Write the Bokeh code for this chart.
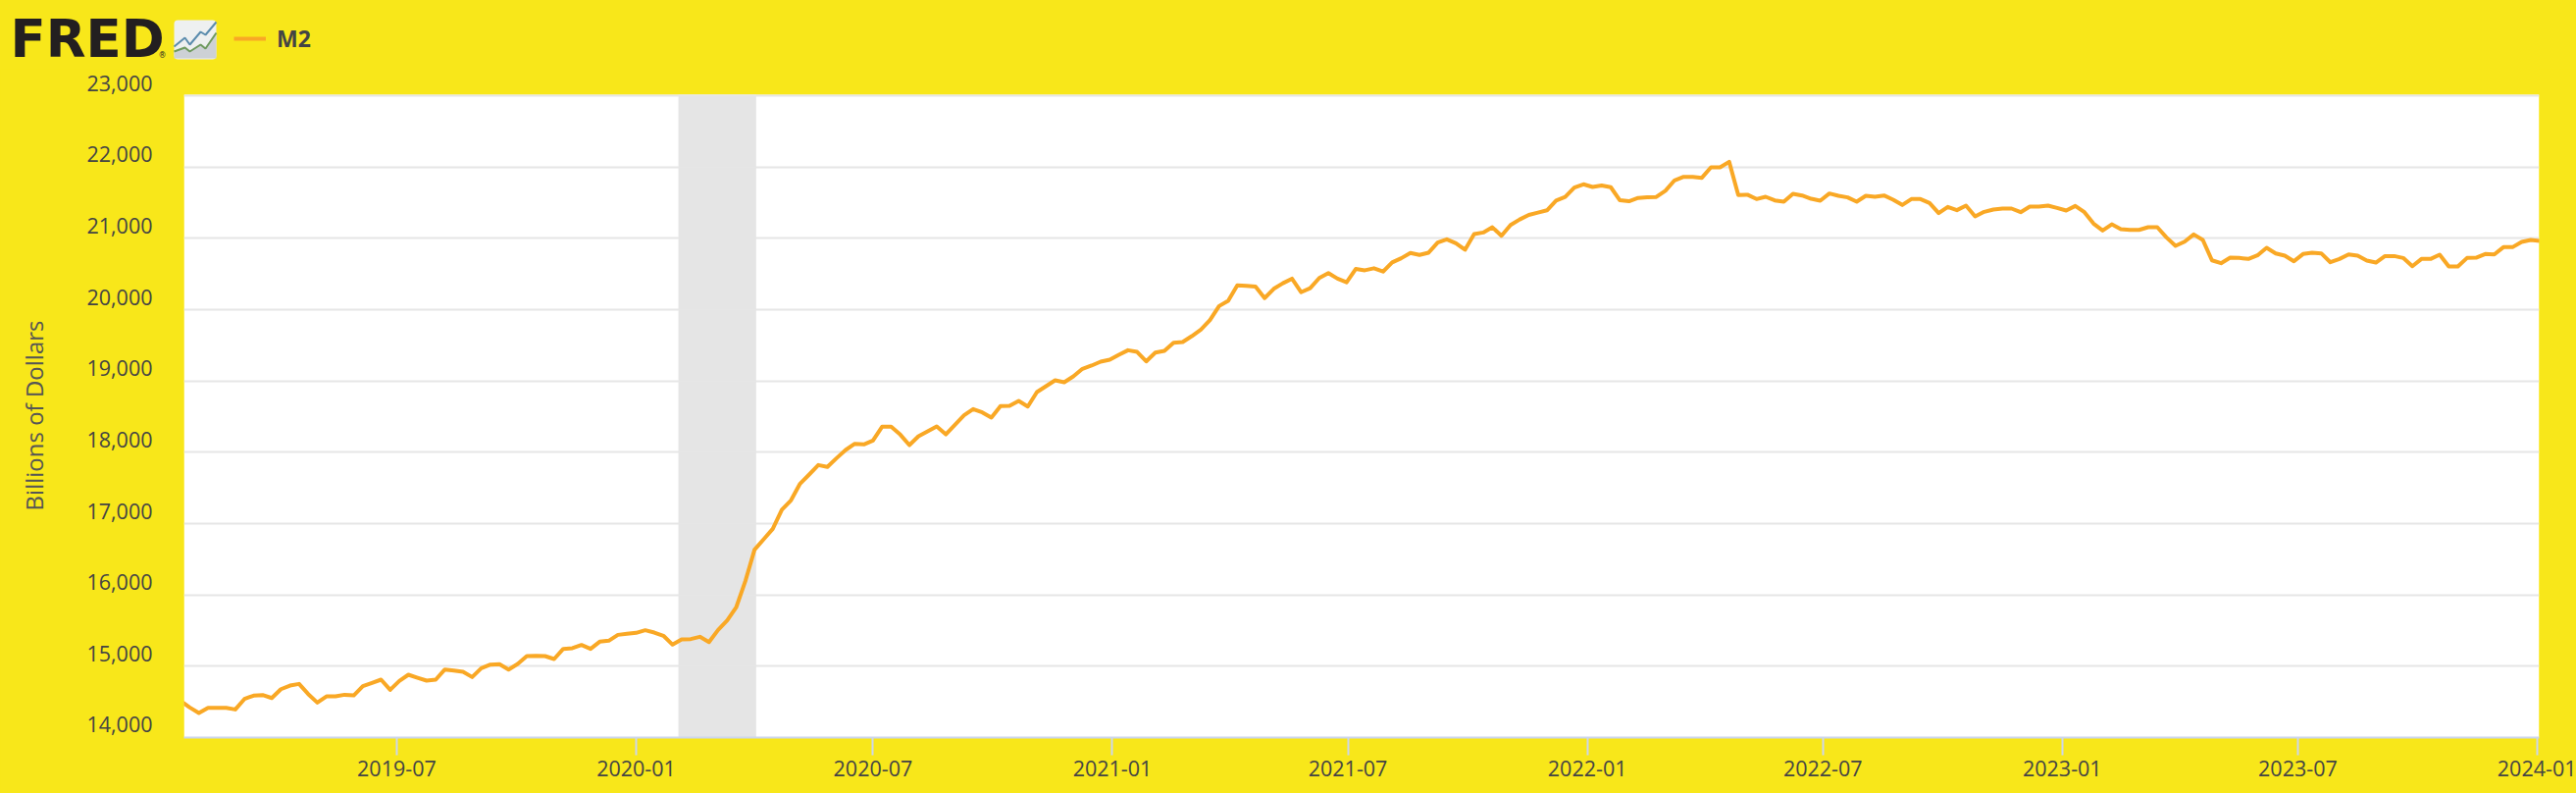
import pandas as pd
from bokeh.core.properties import value
from bokeh.layouts import column
from bokeh.plotting import figure
from bokeh.embed import file_html
from bokeh.resources import INLINE
from bokeh.models import (BoxAnnotation, DatetimeAxis, FixedTicker, Grid, Legend, LegendItem,
                          LinearAxis, NumeralTickFormatter, Range1d)

# ---- data ----
series_name = "M2"
first_week = "2019-01-16"
m2 = [
 14515,14421,14343,14417,14417,14417,14394,14541,14587,14596,14554,14678,14729,14752,14610,14490,
 14577,14577,14600,14591,14720,14766,14812,14669,14793,14881,14839,14798,14812,14954,14940,14922,
 14848,14972,15023,15028,14954,15032,15142,15147,15142,15101,15243,15253,
 15298,15243,15344,15358,15440,15454,15468,15505,15472,15427,15303,15376,15381,15413,15339,15509,
 15642,15830,16197,16633,16780,16927,17193,17326,17560,17688,17821,17794,17917,18032,18119,18110,18165,
 18358,18358,18248,18101,18225,18294,18362,18252,18385,18518,18605,18560,18486,18647,18651,18720,
 18642,18844,18927,19009,18982,19064,19170,19216,19271,19298,19367,19431,19408,19275,19399,19422,
 19537,19546,19628,19720,19853,20050,20125,
 20342,20333,20324,20162,20292,20370,20435,20245,20301,20444,20513,20435,20384,20571,
 20552,20580,20534,20662,20721,20794,20767,20799,20941,20986,20931,20840,21059,21082,21155,21036,
 21187,21265,21329,21361,21393,21530,21580,21712,21758,21721,21740,21717,21534,21520,21566,21575,
 21580,21667,21813,21863,21863,21849,21995,21995,22073,21607,21612,
 21551,21583,21532,21514,21624,21601,21555,21528,21629,21597,21574,21514,21597,21583,21601,21542,
 21468,21551,21551,21496,21353,21441,21395,21459,21308,21372,21404,21418,21418,21367,21445,21445,
 21459,21427,21390,21454,21367,21207,21110,21197,21129,21119,21119,
 21156,21156,21014,20894,20954,21055,20977,20692,20651,20729,20725,20711,20761,20867,20789,20757,
 20679,20780,20798,20789,20665,20711,20775,20757,20688,20660,20752,20752,20725,20610,20711,20711,
 20771,20605,20605,20725,20729,20780,20775,20876,20876,20950,20977,20963,
]
y_ticks = [14000, 15000, 16000, 17000, 18000, 19000, 20000, 21000, 22000, 23000]
x_tick_labels = ["2019-07", "2020-01", "2020-07", "2021-01", "2021-07", "2022-01",
                 "2022-07", "2023-01", "2023-07", "2024-01"]
recession = ("2020-02-02 12:00", "2020-04-02 06:00")
x_limits = ("2019-01-18 12:00", "2024-01-02 12:00")
y_axis_title = "Billions of Dollars"

# ---- styles ----
YELLOW = "#F8E71A"
LINE = "#F9A825"
GRID = "#E6E6E6"
AXIS = "#CCD6EB"
TEXT = "#444444"
FONT = "Open Sans"
TICK_SIZE = "21.5px"
LABEL_SHIFT = 179     # tick labels sit 13 px above their grid lines
PLOT_TOP = y_ticks[-1] + 14
Y_END = y_ticks[-1] + 372
WIDTH, HEADER_H, PAGE_H = 2626, 70, 808

dates = pd.date_range(first_week, periods=len(m2), freq="7D")
to_ms = lambda s: pd.Timestamp(s).value / 1e6

# ---- main chart ----
p = figure(width=WIDTH, height=PAGE_H - HEADER_H, output_backend="svg", toolbar_location=None,
           x_axis_type=None, y_axis_type=None,
           x_range=Range1d(to_ms(x_limits[0]), to_ms(x_limits[1])),
           y_range=Range1d(y_ticks[0], Y_END),
           min_border_left=187, min_border_right=38, min_border_top=0, min_border_bottom=57,
           background_fill_color=YELLOW, border_fill_color=YELLOW, outline_line_color=None,
           frame_align=False)
p.extra_y_ranges = {"labels": Range1d(y_ticks[0] - LABEL_SHIFT, Y_END - LABEL_SHIFT)}

# the plot area proper; the strip above it belongs to the yellow page and holds the 23,000 label
p.add_layout(BoxAnnotation(top=PLOT_TOP, fill_color="#FFFFFF", fill_alpha=1, line_color=None, level="image"))
# recession band
p.add_layout(BoxAnnotation(left=to_ms(recession[0]), right=to_ms(recession[1]), top=PLOT_TOP,
                           fill_color="#E5E5E5", fill_alpha=1, line_color=None, level="underlay"))
p.add_layout(Grid(dimension=1, ticker=FixedTicker(ticks=y_ticks), grid_line_color=GRID, grid_line_width=2))

p.line(dates, m2, line_color=LINE, line_width=4, line_join="round")

xa = DatetimeAxis(ticker=FixedTicker(ticks=[to_ms(t + "-01") for t in x_tick_labels]))
xa.major_label_overrides = {to_ms(t + "-01"): t for t in x_tick_labels}
xa.axis_line_color = AXIS
xa.axis_line_width = 2
xa.major_tick_line_color = AXIS
xa.major_tick_line_width = 2
xa.major_tick_in = 0
xa.major_tick_out = 18
xa.minor_tick_line_color = None
xa.major_label_standoff = 5
xa.major_label_text_font = FONT
xa.major_label_text_font_size = TICK_SIZE
xa.major_label_text_color = TEXT
p.add_layout(xa, "below")

ya = LinearAxis(y_range_name="labels", ticker=FixedTicker(ticks=y_ticks),
                formatter=NumeralTickFormatter(format="0,0"))
ya.axis_line_color = None
ya.major_tick_line_color = None
ya.minor_tick_line_color = None
ya.major_tick_in = 0
ya.major_tick_out = 0
ya.major_label_standoff = 32
ya.major_label_text_font = FONT
ya.major_label_text_font_size = TICK_SIZE
ya.major_label_text_color = TEXT
# trailing no-break spaces centre the title on the plot area rather than on the taller frame
ya.axis_label = y_axis_title + "\u00a0" * 4
ya.axis_label_text_font = FONT
ya.axis_label_text_font_size = "24px"
ya.axis_label_text_font_style = "normal"
ya.axis_label_text_color = "#555555"
ya.axis_label_standoff = 34
p.add_layout(ya, "left")

# ---- header strip: logo and legend; its scales are the page's pixels ----
h = figure(width=WIDTH, height=HEADER_H, output_backend="svg", toolbar_location=None,
           x_axis_type=None, y_axis_type=None,
           x_range=Range1d(0, WIDTH), y_range=Range1d(HEADER_H, 0),
           min_border_left=0, min_border_right=0, min_border_top=0, min_border_bottom=0,
           background_fill_color=YELLOW, border_fill_color=YELLOW, outline_line_color=None,
           frame_align=False)

h.text(x=[10], y=[39], text=["FRED"], text_align="left", text_baseline="middle",
       text_font=value("DejaVu Sans"), text_font_size="53px", text_font_style="bold", text_color="#231F20")
h.text(x=[161], y=[56], text=["®"], text_align="left", text_baseline="middle",
       text_font=value("DejaVu Sans"), text_font_size="8px", text_color="#231F20")

h.add_layout(BoxAnnotation(left=177, right=220, top=20, bottom=60, fill_color="#EEF0F0", fill_alpha=1,
                           line_color=None, border_radius=4, level="underlay"))
icon_x = [177, 188, 193, 204, 209, 220]
icon_blue = [47, 38, 45, 32, 35, 22]
icon_green = [52, 48, 52, 45, 49, 33]
h.patch(icon_x + [220, 177], icon_green + [59, 59], fill_color="#CDD1D5", line_color=None)
h.line(icon_x, icon_blue, line_color="#5B8CAD", line_width=2)
h.line(icon_x, icon_green, line_color="#6E9A5E", line_width=2)

sw = h.line([None], [None], line_color=LINE, line_width=4)
leg = Legend(items=[LegendItem(label=series_name, renderers=[sw])], location=(238, 15),
             orientation="horizontal", padding=0, margin=0, spacing=0,
             glyph_width=33, glyph_height=24, label_standoff=11,
             label_text_font=FONT, label_text_font_size="23px", label_text_font_style="bold",
             label_text_color=TEXT, background_fill_alpha=0, border_line_color=None)
h.add_layout(leg, "center")

page = column(h, p, spacing=0)

html = file_html(page, INLINE)
html = html.replace("</head>", f"<style>html,body{{background:{YELLOW};overflow:hidden}}</style></head>")
open("out.html", "w").write(html)
